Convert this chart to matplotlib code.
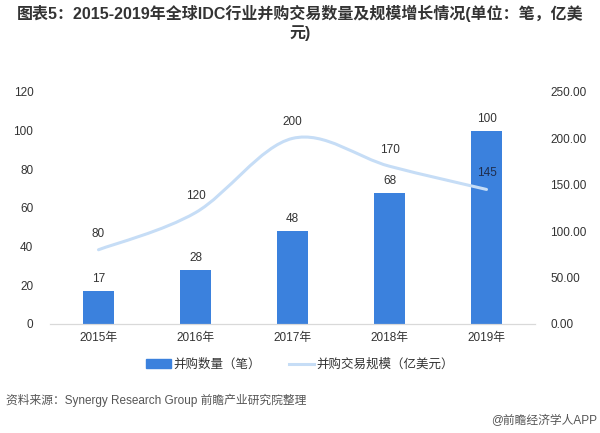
import numpy as np
import matplotlib
matplotlib.use("Agg")
import matplotlib.pyplot as plt
from matplotlib.path import Path
from matplotlib.patches import PathPatch, Patch
from matplotlib.lines import Line2D

plt.rcParams['font.family'] = ['Liberation Sans', 'Noto Sans CJK SC', 'DejaVu Sans']

years = ['2015年', '2016年', '2017年', '2018年', '2019年']
deals = [17, 28, 48, 68, 100]          # 并购数量（笔）
scale = [80, 120, 200, 170, 145]       # 并购交易规模（亿美元）

bar_color = '#3b81dd'
line_color = '#c6ddf6'
text_color = '#333333'

fig = plt.figure(figsize=(6, 4.33), dpi=100)
ax = fig.add_axes([50/600, 1-324/433, 485/600, 232/433])
ax2 = ax.twinx()

x = np.arange(len(years))
ax.bar(x, deals, width=0.32, color=bar_color, zorder=2)
for xi, v in zip(x, deals):
    ax.text(xi, v + 3, str(v), ha='center', va='bottom', fontsize=8.5, color=text_color)

# smoothed line like excel (bezier through the points)
pts = np.column_stack([x, scale]).astype(float)
verts = [pts[0]]
codes = [Path.MOVETO]
for i in range(len(pts) - 1):
    p0 = pts[i - 1] if i > 0 else pts[i]
    p1, p2 = pts[i], pts[i + 1]
    p3 = pts[i + 2] if i + 2 < len(pts) else pts[i + 1]
    c1 = p1 + (p2 - p0) / 6
    c2 = p2 - (p3 - p1) / 6
    verts += [c1, c2, p2]
    codes += [Path.CURVE4] * 3
ax2.add_patch(PathPatch(Path(verts, codes), fill=False, edgecolor=line_color, lw=2.2,
                        capstyle='round', zorder=3))
for xi, v in zip(x, scale):
    ax2.text(xi, v + 11, str(v), ha='center', va='bottom', fontsize=8.5,
             color='#1f2d4d' if xi == 4 else text_color)

ax.set_xlim(-0.5, 4.5)
ax.set_ylim(0, 120)
ax.set_yticks(range(0, 121, 20))
ax2.set_ylim(0, 250)
ax2.set_yticks(range(0, 251, 50))
ax2.set_yticklabels(['%.2f' % t for t in range(0, 251, 50)])
ax.set_xticks(x)
ax.set_xticklabels(years)

for a in (ax, ax2):
    for s in ('top', 'left', 'right'):
        a.spines[s].set_visible(False)
    a.spines['bottom'].set_color('#d9d9d9')
    a.tick_params(length=0, labelsize=8.5, colors=text_color)
ax.tick_params(axis='y', pad=12)
ax2.tick_params(axis='y', pad=11)
ax.tick_params(axis='x', pad=6)

handles = [Patch(color=bar_color), Line2D([], [], color=line_color, lw=2.2)]
fig.legend(handles, ['并购数量（笔）', '并购交易规模（亿美元）'], loc='center',
           bbox_to_anchor=(0.5, 1-365/433), ncol=2, frameon=False, fontsize=9,
           handlelength=2.0, handleheight=0.7, columnspacing=2.2, handletextpad=0.2,
           labelcolor=text_color)

fig.text(0.5, 1-23/433, '图表5：2015-2019年全球IDC行业并购交易数量及规模增长情况(单位：笔，亿美\n元)',
         ha='center', va='center', fontsize=11.5, fontweight='bold', color=text_color,
         linespacing=1.25)
fig.text(6/600, 1-400/433, '资料来源：Synergy Research Group 前瞻产业研究院整理',
         ha='left', va='center', fontsize=8.5, color='#555555')
fig.text(597/600, 1-421/433, '@前瞻经济学人APP', ha='right', va='center',
         fontsize=8.5, color='#555555')

fig.savefig('out.png', dpi=100)
